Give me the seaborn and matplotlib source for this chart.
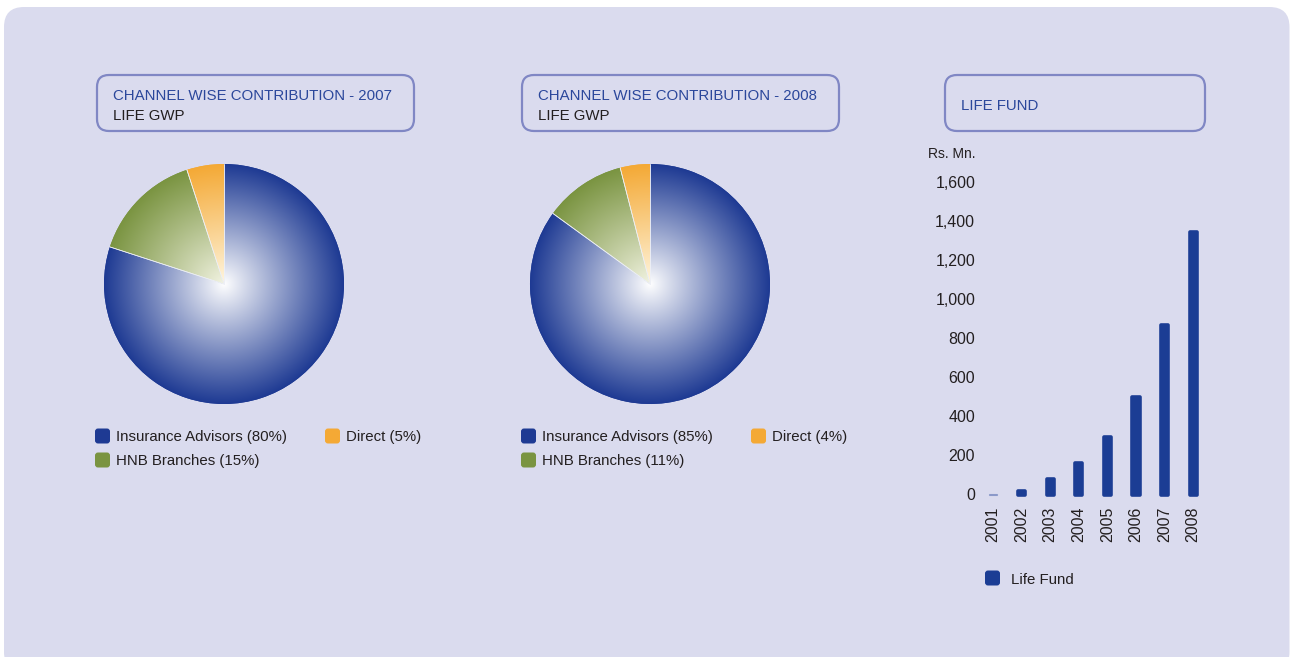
import numpy as np
import pandas as pd
import matplotlib
matplotlib.use("Agg")
import matplotlib.pyplot as plt
import seaborn as sns
from matplotlib.patches import FancyBboxPatch
from matplotlib.colors import to_rgb

# ---------------- data ----------------
channels = ["Insurance Advisors", "HNB Branches", "Direct"]
share_2007 = [80, 15, 5]
share_2008 = [85, 11, 4]
pie_titles = ["CHANNEL WISE CONTRIBUTION - 2007", "CHANNEL WISE CONTRIBUTION - 2008"]
pie_subtitle = "LIFE GWP"

years = ["2001", "2002", "2003", "2004", "2005", "2006", "2007", "2008"]
life_fund = [2, 20, 78, 163, 293, 498, 868, 1343]
y_ticks = [0, 200, 400, 600, 800, 1000, 1200, 1400, 1600]
bar_title = "LIFE FUND"
bar_unit = "Rs. Mn."
bar_legend = "Life Fund"

# ---------------- style ----------------
W, H = 1290, 657
PANEL = "#DADBEE"
BORDER = "#8087C4"
TITLE_BLUE = "#2B479B"
TEXT = "#231F20"
BAR_BLUE = "#1B3D94"
edge_cols = ["#1E3A93", "#7A9441", "#F4A935"]
center_cols = ["#FFFFFF", "#F3F4E3", "#FFF7E2"]

sns.set_theme(style="white")
plt.rcParams["font.family"] = ["Liberation Sans", "DejaVu Sans"]
NARROW = ["Liberation Sans Narrow", "Liberation Sans", "DejaVu Sans"]

fig = plt.figure(figsize=(W / 100, H / 100), dpi=100)
fig.patch.set_facecolor("white")

bg = fig.add_axes([0, 0, 1, 1], zorder=0)
bg.set_xlim(0, W)
bg.set_ylim(H, 0)
bg.axis("off")

# panel
bg.add_patch(FancyBboxPatch((4, 7), 1285.5, 665, boxstyle="round,pad=0,rounding_size=20",
                            fc=PANEL, ec="none"))


def title_box(x0, x1, y0, y1):
    bg.add_patch(FancyBboxPatch((x0, y0), x1 - x0, y1 - y0,
                                boxstyle="round,pad=0,rounding_size=12",
                                fc="none", ec=BORDER, lw=1.6))


FS = 10.8
# pie title boxes
for bx, title in zip([97, 522], pie_titles):
    title_box(bx, bx + 317, 75, 131)
    bg.text(bx + 16, 95.5, title, color=TITLE_BLUE, fontsize=FS, va="center", ha="left")
    bg.text(bx + 16, 115.5, pie_subtitle, color=TEXT, fontsize=FS, va="center", ha="left")

# bar title box
title_box(945, 1205, 75, 131)
bg.text(961, 105.5, bar_title, color=TITLE_BLUE, fontsize=FS, va="center", ha="left")


def swatch(x, yc, color, size=15):
    bg.add_patch(FancyBboxPatch((x, yc - size / 2), size, size,
                                boxstyle="round,pad=0,rounding_size=3",
                                fc=color, ec="none"))


# ---------------- pies ----------------
def gradient_pie(ax, values):
    wedges, _ = ax.pie(values, colors=edge_cols, startangle=90, counterclock=False,
                       radius=1, wedgeprops=dict(linewidth=0))
    n = 500
    xs = np.linspace(-1, 1, n)
    X, Y = np.meshgrid(xs, xs)
    R = np.clip(np.sqrt(X ** 2 + Y ** 2), 0, 1)[..., None]
    t = R ** 0.95
    for w, ce, cc in zip(wedges, edge_cols, center_cols):
        img = np.array(to_rgb(cc)) * (1 - t) + np.array(to_rgb(ce)) * t
        im = ax.imshow(img, extent=(-1, 1, -1, 1), origin="lower",
                       interpolation="bilinear", zorder=2)
        im.set_clip_path(w)
    # faint separators
    for w in wedges:
        for ang in (w.theta1, w.theta2):
            a = np.deg2rad(ang)
            ax.plot([0, np.cos(a)], [0, np.sin(a)], color="#EEF0F6", lw=0.5, zorder=3)
    ax.set_xlim(-1, 1)
    ax.set_ylim(-1, 1)
    ax.set_aspect("equal")
    ax.axis("off")


for cx, shares, lx, dx in [(224, share_2007, 95, 325), (650, share_2008, 521, 751)]:
    r = 120
    ax = fig.add_axes([(cx - r) / W, 1 - (284 + r) / H, 2 * r / W, 2 * r / H], zorder=2)
    ax.patch.set_alpha(0)
    gradient_pie(ax, shares)
    # legend
    labels = [f"{c} ({v}%)" for c, v in zip(channels, shares)]
    pos = [(lx, 436), (lx, 460), (dx, 436)]
    for (x, yc), lab, col in zip(pos, labels, edge_cols):
        swatch(x, yc, col)
        bg.text(x + 21, yc + 1.5, lab, color=TEXT, fontsize=FS, va="center", ha="left")

# ---------------- bars ----------------
step = 28.6
x_first = 993
y0_px, y1600_px = 494.5, 181.7
left = x_first - step / 2
axb = fig.add_axes([left / W, 1 - y0_px / H, 8 * step / W, (y0_px - y1600_px) / H], zorder=2)
axb.patch.set_alpha(0)
df = pd.DataFrame({"year": years, "value": life_fund})
sns.barplot(data=df, x="year", y="value", ax=axb, color=BAR_BLUE, saturation=1,
            width=0.25, errorbar=None, edgecolor=BAR_BLUE, linewidth=2.6)
for p in axb.patches:
    p.set_joinstyle("round")
    p.set_clip_on(False)
    if p.get_height() < 10:
        p.set_linewidth(0.8)
        p.set_alpha(0.3)
axb.set_xlim(-0.5, 7.5)
axb.set_ylim(0, 1600)
axb.set_yticks(y_ticks)
axb.set_yticklabels([f"{v:,}" for v in y_ticks], fontsize=11.5, color=TEXT, family=NARROW)
axb.set_xticks(range(len(years)))
axb.set_xticklabels(years, rotation=90, fontsize=11.5, color=TEXT, family=NARROW)
axb.tick_params(axis="y", length=0, pad=2.5)
axb.tick_params(axis="x", length=0, pad=9)
axb.set_xlabel("")
axb.set_ylabel("")
sns.despine(ax=axb, left=True, bottom=True)
axb.grid(False)

bg.text(975, 154, bar_unit, color=TEXT, fontsize=10, va="center", ha="right", family=NARROW)
swatch(985, 578, BAR_BLUE)
bg.text(1011, 579.5, bar_legend, color=TEXT, fontsize=FS, va="center", ha="left")

fig.savefig("out.png", dpi=100, facecolor="white")
